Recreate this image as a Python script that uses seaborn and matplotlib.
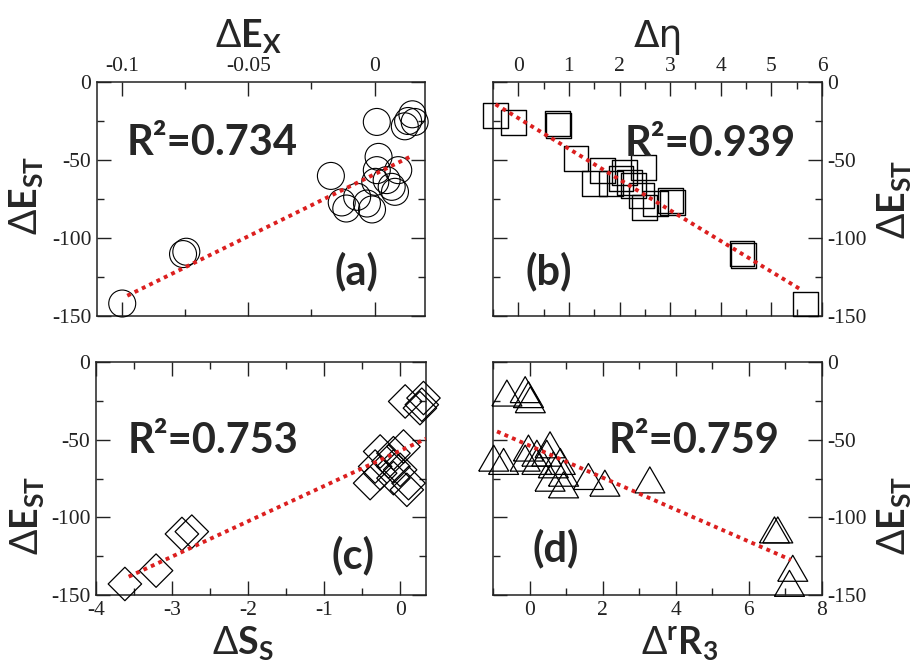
import numpy as np
import pandas as pd
import matplotlib
matplotlib.use("Agg")
import matplotlib.pyplot as plt
from matplotlib.ticker import MultipleLocator, FuncFormatter
import seaborn as sns

# ---------------- data ----------------
# (a) Delta E_X vs Delta E_ST
a_x = [-0.100, -0.0759, -0.0746, -0.0173, -0.0130, -0.0112, -0.0069, -0.0030, -0.0010,
       0.0009, 0.0016, 0.0009, 0.0003, 0.0048, 0.0094, 0.0068, 0.0081, 0.0133, 0.0159,
       0.0150, 0.0120]
a_y = [-142, -110.3, -108.8, -60.2, -77.2, -81.1, -73.6, -77.9, -81.7,
       -25.6, -48.0, -56.5, -64.0, -62.9, -56.5, -67.2, -70.4, -25.0, -25.6,
       -20.7, -28.4]
a_fit_x = [-0.098, 0.014]
a_fit_y = [-137.0, -48.0]
a_r2 = "R²=0.734"

# (b) Delta eta vs Delta E_ST
b_x = [-0.45, -0.10, 0.78, 0.80, 1.14, 1.66, 1.50, 1.83, 2.03, 2.10, 2.20, 2.27, 2.47,
       2.44, 2.50, 2.71, 3.01, 3.04, 4.42, 4.45, 5.68]
b_y = [-21.7, -26.0, -26.6, -28.0, -49.0, -56.8, -64.9, -65.3, -62.1, -57.9, -64.3, -66.4,
       -54.7, -72.8, -80.2, -78.1, -76.0, -77.0, -110.0, -111.0, -142.3]
b_fit_x = [-0.45, 5.6]
b_fit_y = [-14.3, -133.4]
b_r2 = "R²=0.939"

# (c) Delta S_S vs Delta E_ST
c_x = [-3.62, -3.21, -2.87, -2.74, 0.066, 0.285, 0.307, 0.26,
       -0.263, -0.088, 0.044, -0.153, -0.088, 0.0, -0.329, -0.263, -0.395, -0.088, 0.11, 0.088]
c_y = [-142.9, -134.3, -110.7, -109.2, -25.4, -27.5, -23.2, -29.7,
       -57.6, -58.7, -54.4, -64.0, -67.3, -69.4, -67.3, -71.6, -78.0, -74.8, -78.0, -82.3]
c_fit_x = [-3.57, 0.34]
c_fit_y = [-138.2, -49.4]
c_r2 = "R²=0.753"

# (d) Delta rR_3 vs Delta E_ST
d_x = [-0.62, -0.12, -0.03, 0.02, -0.98, -0.71, -0.03, 0.20, 0.47, 0.56, -0.12, 0.20,
       0.65, 0.84, 0.93, 0.56, 0.93, 1.61, 2.06, 3.29, 6.70, 6.79, 7.20, 7.11]
d_y = [-20.0, -17.8, -21.0, -24.3, -61.9, -64.0, -55.4, -58.7, -58.7, -53.3, -61.9, -64.0,
       -66.2, -64.0, -71.6, -74.8, -79.1, -73.7, -78.0, -75.9, -108.1, -108.1, -132.8, -142.5]
d_fit_x = [-0.89, 7.15]
d_fit_y = [-44.7, -127.4]
d_r2 = "R²=0.759"

panel_tags = ["(a)", "(b)", "(c)", "(d)"]
y_ticks_major = 50
y_ticks_minor = 25

# ---------------- style ----------------
sns.set_style("ticks")
plt.rcParams["font.family"] = ["Liberation Serif", "DejaVu Serif"]
plt.rcParams["axes.unicode_minus"] = False
plt.rcParams["mathtext.fontset"] = "custom"
plt.rcParams["mathtext.rm"] = "Lato"
plt.rcParams["mathtext.bf"] = "Lato:bold"
plt.rcParams["mathtext.it"] = "Lato:italic"
plt.rcParams["mathtext.fallback"] = "stixsans"

RED = "#dc1f1f"
W, H = 919, 666
fig = plt.figure(figsize=(W / 100, H / 100), dpi=100)


def box(l, t, r, b):
    return [l / W, 1 - b / H, (r - l) / W, (b - t) / H]


axA = fig.add_axes(box(97, 82, 425, 316))
axB = fig.add_axes(box(493, 82, 822, 316))
axC = fig.add_axes(box(96, 362, 426, 595))
axD = fig.add_axes(box(493, 362, 822, 595))

fmt = FuncFormatter(lambda v, p: f"{round(v, 6) + 0:g}")

tri = [(-1, -0.866), (1, -0.866), (0, 0.866), (-1, -0.866)]

label_font = dict(family=["Lato", "DejaVu Sans"])


def setup(ax, xlim, xmaj, xmin, top, right):
    ax.set_xlim(*xlim)
    ax.set_ylim(-150, 0)
    ax.xaxis.set_major_locator(MultipleLocator(xmaj))
    ax.xaxis.set_minor_locator(MultipleLocator(xmin))
    ax.yaxis.set_major_locator(MultipleLocator(y_ticks_major))
    ax.yaxis.set_minor_locator(MultipleLocator(y_ticks_minor))
    ax.xaxis.set_major_formatter(fmt)
    ax.yaxis.set_major_formatter(fmt)
    ax.tick_params(which="both", direction="in", top=True, bottom=True, left=True, right=True,
                   labeltop=top, labelbottom=not top, labelleft=not right, labelright=right,
                   labelsize=15.5, pad=4, color="#222222", labelcolor="#222222")
    ax.tick_params(which="major", length=10, width=1.0)
    ax.tick_params(which="minor", length=5, width=1.0)
    for s in ax.spines.values():
        s.set_linewidth(1.1)
        s.set_color("#222222")
        s.set_zorder(2)
    ax.set_xlabel("")
    ax.set_ylabel("")


def panel(ax, x, y, fx, fy, marker, size, lw, r2, r2pos, tag, tagpos):
    df = pd.DataFrame({"x": x, "y": y})
    sns.scatterplot(data=df, x="x", y="y", ax=ax, marker=marker, s=size,
                    facecolors="none", edgecolor="black", linewidth=lw, zorder=3,
                    clip_on=False)
    lf = pd.DataFrame({"x": fx, "y": fy})
    sns.lineplot(data=lf, x="x", y="y", ax=ax, color=RED, linewidth=2.8,
                 linestyle=(0, (1, 1.1)), sort=False, zorder=4)
    ax.text(r2pos[0], r2pos[1], r2, transform=ax.transAxes, ha="left", va="center",
            fontsize=30, fontweight="bold", **label_font)
    ax.text(tagpos[0], tagpos[1], tag, transform=ax.transAxes, ha="center", va="center",
            fontsize=30, fontweight="bold", **label_font)


panel(axA, a_x, a_y, a_fit_x, a_fit_y, "o", 377, 0.8, a_r2, (0.09, 0.74), panel_tags[0], (0.79, 0.19))
panel(axB, b_x, b_y, b_fit_x, b_fit_y, "s", 320, 1.0, b_r2, (0.40, 0.735), panel_tags[1], (0.17, 0.19))
panel(axC, c_x, c_y, c_fit_x, c_fit_y, "D", 290, 0.9, c_r2, (0.095, 0.66), panel_tags[2], (0.78, 0.17))
panel(axD, d_x, d_y, d_fit_x, d_fit_y, tri, 467, 0.9, d_r2, (0.35, 0.66), panel_tags[3], (0.19, 0.20))

setup(axA, (-0.11, 0.02), 0.05, 0.025, top=True, right=False)
setup(axB, (-0.5, 6.0), 1, 0.5, top=True, right=True)
setup(axC, (-4.0, 0.34), 1, 0.5, top=False, right=False)
setup(axD, (-1.0, 8.0), 2, 1, top=False, right=True)

LAB = 27
ylab = r"$\Delta\mathbf{E}_{\mathbf{ST}}$"
axA.text(0.463, 1.15, r"$\Delta\mathbf{E}_{\mathbf{X}}$", transform=axA.transAxes,
         ha="center", va="baseline", fontsize=LAB)
axB.text(0.503, 1.15, "Δη", transform=axB.transAxes, ha="center", va="baseline",
         fontsize=LAB, family=["DejaVu Sans"])
axC.text(0.445, -0.255, r"$\Delta\mathbf{S}_{\mathbf{S}}$", transform=axC.transAxes,
         ha="center", va="baseline", fontsize=LAB)
axD.text(0.568, -0.255, r"$\Delta^{\mathbf{r}}\mathbf{R}_{\mathbf{3}}$", transform=axD.transAxes,
         ha="center", va="baseline", fontsize=LAB)
axA.text(-0.215, 0.517, ylab, transform=axA.transAxes, rotation=90, ha="center", va="center", fontsize=LAB)
axC.text(-0.21, 0.343, ylab, transform=axC.transAxes, rotation=90, ha="center", va="center", fontsize=LAB)
axB.text(1.22, 0.496, ylab, transform=axB.transAxes, rotation=90, ha="center", va="center", fontsize=LAB)
axD.text(1.22, 0.343, ylab, transform=axD.transAxes, rotation=90, ha="center", va="center", fontsize=LAB)

fig.savefig("out.png", dpi=100, facecolor="white")
